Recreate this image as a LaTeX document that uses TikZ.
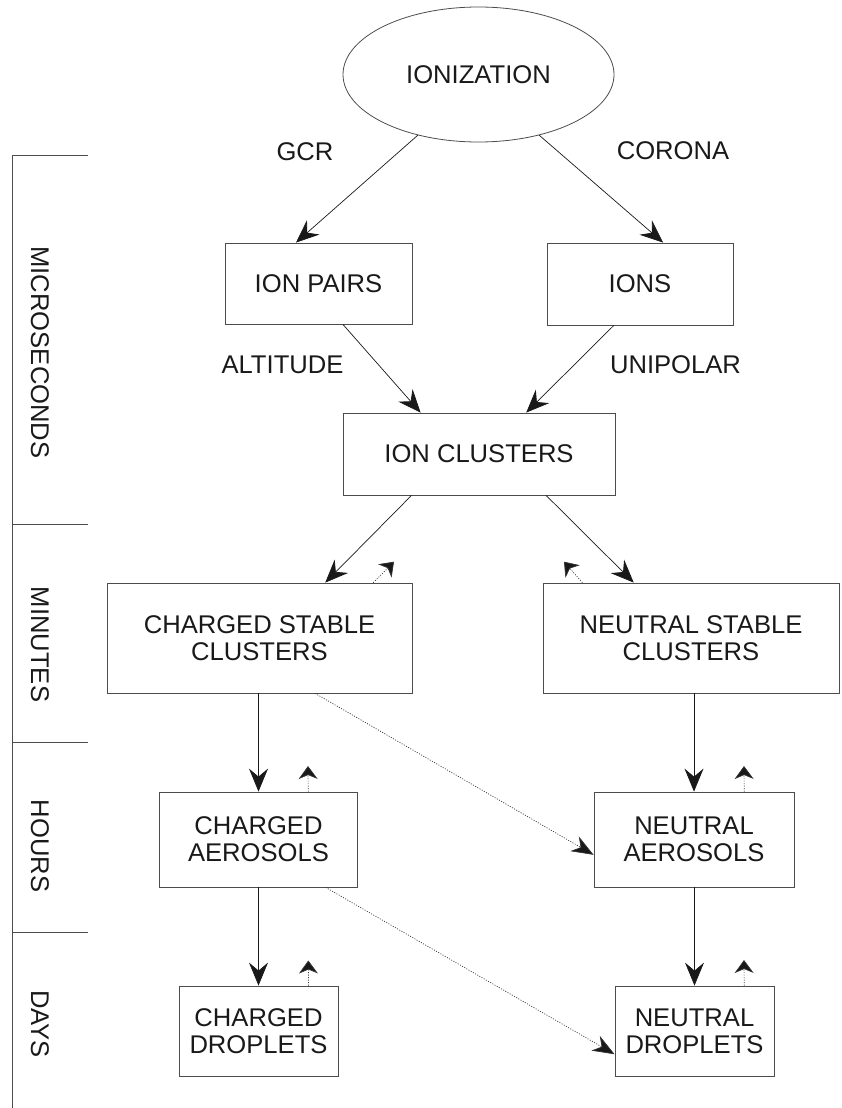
\documentclass[tikz,border=0pt]{standalone}
\usepackage{fontspec}
\setmainfont{Liberation Sans}
\usetikzlibrary{arrows.meta,shapes.geometric,calc}
\begin{document}
\begin{tikzpicture}[x=1pt,y=-1pt,
  every node/.style={font=\fontsize{25.6}{27}\selectfont, text=black!90, inner sep=0pt},
  box/.style={draw=black!70, line width=0.8pt, rectangle, align=center},
  oval/.style={draw=black!70, line width=0.8pt, ellipse},
  arr/.style={draw=black!90, line width=0.7pt, -{Stealth[length=23pt,width=19pt,inset=8pt]}},
  dotarr/.style={draw=black!80, line width=0.7pt, dash pattern=on 1pt off 1.5pt, -{Stealth[length=13pt,width=19pt,inset=4pt,fill=black!90]}},
  diagarr/.style={draw=black!80, line width=0.7pt, dash pattern=on 1pt off 1.5pt, -{Stealth[length=22pt,width=17pt,inset=7pt,fill=black!90]}},
  rule/.style={draw=black!70, line width=0.8pt},
  timelabel/.style={rotate=-90}
]
\useasboundingbox (0,0) rectangle (841,1108);

% nodes
\node[oval, minimum width=271pt, minimum height=135pt] (ion) at (478.5,74.5) {IONIZATION};
\node[box, minimum width=187pt, minimum height=81pt] (pairs) at (318.5,283.5) {ION PAIRS};
\node[box, minimum width=186pt, minimum height=82pt] (ions) at (640,284) {IONS};
\node[box, minimum width=272pt, minimum height=82pt] (clus) at (479,454) {ION CLUSTERS};
\node[box, minimum width=305pt, minimum height=110pt] (csc) at (259.5,638) {CHARGED STABLE\\CLUSTERS};
\node[box, minimum width=296pt, minimum height=110pt] (nsc) at (691,638) {NEUTRAL STABLE\\CLUSTERS};
\node[box, minimum width=198pt, minimum height=95pt] (cae) at (258.5,839.5) {CHARGED\\AEROSOLS};
\node[box, minimum width=200pt, minimum height=95pt] (nae) at (694,839.5) {NEUTRAL\\AEROSOLS};
\node[box, minimum width=159pt, minimum height=90pt] (cdr) at (258.5,1031) {CHARGED\\DROPLETS};
\node[box, minimum width=159pt, minimum height=90pt] (ndr) at (694.5,1031) {NEUTRAL\\DROPLETS};

% edge labels
\node (gcr) at (305,151.5) {GCR};
\node (corona) at (673,151) {CORONA};
\node (alt) at (282.5,365) {ALTITUDE};
\node (uni) at (675.5,364.5) {UNIPOLAR};

% time scale
\draw[rule] (88,155.7) -- (12.3,155.7) -- (12.3,1108);
\draw[rule] (12.3,524.3) -- (88,524.3);
\draw[rule] (12.3,742.7) -- (88,742.7);
\draw[rule] (12.3,932.3) -- (88,932.3);
\node[timelabel] (tmicro) at (40,352.5) {MICROSECONDS};
\node[timelabel] (tmin) at (40,644.5) {MINUTES};
\node[timelabel] (thour) at (40,846) {HOURS};
\node[timelabel] (tday) at (40,1024) {DAYS};

% free ends of the dotted arrows
\coordinate (cscup) at (394,561.7);
\coordinate (nscup) at (564,561.7);
\coordinate (caeup) at (308,766);
\coordinate (naeup) at (744,766);
\coordinate (cdrup) at (308.3,960.5);
\coordinate (ndrup) at (744,960);

% solid connectors
\draw[arr] (ion.225) -- ($(pairs.north west)!0.38!(pairs.north east)$);
\draw[arr] (ion.-45) -- ($(ions.north west)!0.624!(ions.north east)$);
\draw[arr] ($(pairs.south west)!0.63!(pairs.south east)$) -- ($(clus.north west)!0.286!(clus.north east)$);
\draw[arr] ($(ions.south west)!0.36!(ions.south east)$) -- ($(clus.north west)!0.673!(clus.north east)$);
\draw[arr] ($(clus.south west)!0.2526!(clus.south east)$) -- ($(csc.north west)!0.715!(csc.north east)$);
\draw[arr] ($(clus.south west)!0.746!(clus.south east)$) -- ($(nsc.north west)!0.307!(nsc.north east)$);
\draw[arr] (csc.south -| cae.north) -- (cae.north);
\draw[arr] (nsc.south -| nae.north) -- (nae.north);
\draw[arr] (cae.south) -- (cdr.north);
\draw[arr] (nae.south -| ndr.north) -- (ndr.north);

% dotted connectors
\draw[dotarr] ($(csc.north west)!0.872!(csc.north east)$) -- (cscup);
\draw[dotarr] ($(nsc.north west)!0.134!(nsc.north east)$) -- (nscup);
\draw[dotarr] ($(cae.north west)!0.75!(cae.north east)$) -- (caeup);
\draw[dotarr] ($(nae.north west)!0.75!(nae.north east)$) -- (naeup);
\draw[dotarr] ($(cdr.north west)!0.813!(cdr.north east)$) -- (cdrup);
\draw[dotarr] ($(ndr.north west)!0.811!(ndr.north east)$) -- (ndrup);
\draw[diagarr] ($(csc.south west)!0.682!(csc.south east)$) -- ($(nae.north west)!0.66!(nae.south west)$);
\draw[diagarr] ($(cae.south west)!0.838!(cae.south east)$) -- ($(ndr.north west)!0.756!(ndr.south west)$);
\end{tikzpicture}
\end{document}
